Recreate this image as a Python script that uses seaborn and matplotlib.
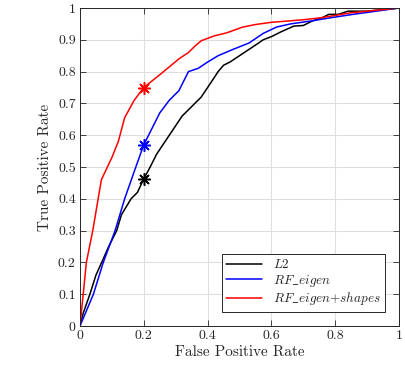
import numpy as np
import pandas as pd
import matplotlib
matplotlib.use("Agg")
import matplotlib.pyplot as plt
import seaborn as sns

# ------------------------------------------------------------
# ROC curve data
# ------------------------------------------------------------
l2_fpr = [0, 0.01, 0.031, 0.05, 0.068, 0.09, 0.115, 0.13, 0.16, 0.18, 0.2, 0.22, 0.24,
          0.26, 0.28, 0.3, 0.32, 0.34, 0.36, 0.38, 0.40, 0.42, 0.433, 0.45, 0.47, 0.5,
          0.53, 0.56, 0.574, 0.6, 0.63, 0.67, 0.7, 0.73, 0.76, 0.78, 0.81, 0.84, 0.9, 0.95, 1.0]
l2_tpr = [0, 0.04, 0.1, 0.16, 0.2, 0.25, 0.3, 0.35, 0.4, 0.42, 0.463, 0.5, 0.54,
          0.57, 0.6, 0.63, 0.66, 0.68, 0.7, 0.72, 0.75, 0.78, 0.8, 0.82, 0.83, 0.85,
          0.87, 0.89, 0.9, 0.91, 0.925, 0.943, 0.945, 0.96, 0.97, 0.98, 0.98, 0.99, 0.99, 0.995, 1.0]

rf_fpr = [0, 0.042, 0.073, 0.11, 0.14, 0.175, 0.2, 0.25, 0.28, 0.31, 0.34, 0.37, 0.40,
          0.433, 0.48, 0.53, 0.574, 0.616, 0.66, 0.73, 0.79, 0.856, 1.0]
rf_tpr = [0, 0.1, 0.2, 0.3, 0.4, 0.5, 0.57, 0.67, 0.71, 0.74, 0.8, 0.81, 0.83,
          0.85, 0.87, 0.89, 0.92, 0.94, 0.95, 0.96, 0.97, 0.98, 1.0]

rfs_fpr = [0, 0.01, 0.02, 0.04, 0.067, 0.1, 0.12, 0.14, 0.17, 0.2, 0.25, 0.28, 0.31,
           0.34, 0.36, 0.38, 0.42, 0.46, 0.51, 0.55, 0.6, 0.7, 0.76, 0.85, 0.9, 1.0]
rfs_tpr = [0, 0.1, 0.2, 0.3, 0.46, 0.53, 0.58, 0.655, 0.71, 0.75, 0.79, 0.815, 0.84,
           0.86, 0.88, 0.897, 0.912, 0.922, 0.94, 0.948, 0.955, 0.963, 0.97, 0.985, 0.99, 1.0]

op_fpr = [0.2, 0.2, 0.2]
op_tpr = [0.463, 0.57, 0.75]

labels = [r"$L2$", r"$RF\_eigen$", r"$RF\_eigen{+}shapes$"]
colors = ["black", "blue", "red"]

frames = []
for name, x, y in zip(labels, [l2_fpr, rf_fpr, rfs_fpr], [l2_tpr, rf_tpr, rfs_tpr]):
    frames.append(pd.DataFrame({"fpr": x, "tpr": y, "method": name}))
roc = pd.concat(frames, ignore_index=True)

# ------------------------------------------------------------
# Style
# ------------------------------------------------------------
sns.set_style("ticks")
plt.rcParams["font.family"] = "serif"
plt.rcParams["font.serif"] = ["cmr10"]
plt.rcParams["mathtext.fontset"] = "cm"
plt.rcParams["axes.formatter.use_mathtext"] = True
plt.rcParams["axes.unicode_minus"] = False

fig = plt.figure(figsize=(4.05, 3.68), dpi=100)
ax = fig.add_axes([80 / 405, 1 - 326 / 368, 319 / 405, 318 / 368])

sns.lineplot(data=roc, x="fpr", y="tpr", hue="method", palette=colors,
             sort=False, estimator=None, linewidth=1.1, ax=ax)

for x, y, c in zip(op_fpr, op_tpr, colors):
    ax.plot(x, y, marker=(8, 2, 0), color=c, markersize=9, markeredgewidth=1.1, linestyle="none")

ax.set_xlim(0, 1)
ax.set_ylim(0, 1)
ax.set_xticks(np.arange(0, 1.01, 0.2))
ax.set_yticks(np.arange(0, 1.01, 0.1))
ax.set_xticklabels(["0", "0.2", "0.4", "0.6", "0.8", "1"])
ax.set_yticklabels(["0"] + ["%.1f" % v for v in np.arange(0.1, 1.0, 0.1)] + ["1"])
ax.tick_params(direction="in", top=True, right=True, labelsize=10, length=4, width=0.6, pad=3)
ax.grid(True, color="#dedede", linewidth=0.8)
ax.set_axisbelow(True)
for s in ax.spines.values():
    s.set_linewidth(0.7)
    s.set_color("#262626")

ax.set_xlabel("False Positive Rate", fontsize=11, labelpad=2)
ax.set_ylabel("True Positive Rate", fontsize=11, labelpad=4)

leg = ax.legend(loc="lower right", bbox_to_anchor=(0.956, 0.044), borderaxespad=0,
                fontsize=9.5, fancybox=False, framealpha=1, edgecolor="#262626",
                handlelength=2.7, borderpad=0.35, labelspacing=0.12)
leg.get_frame().set_linewidth(0.7)

fig.savefig("out.png", dpi=100)
